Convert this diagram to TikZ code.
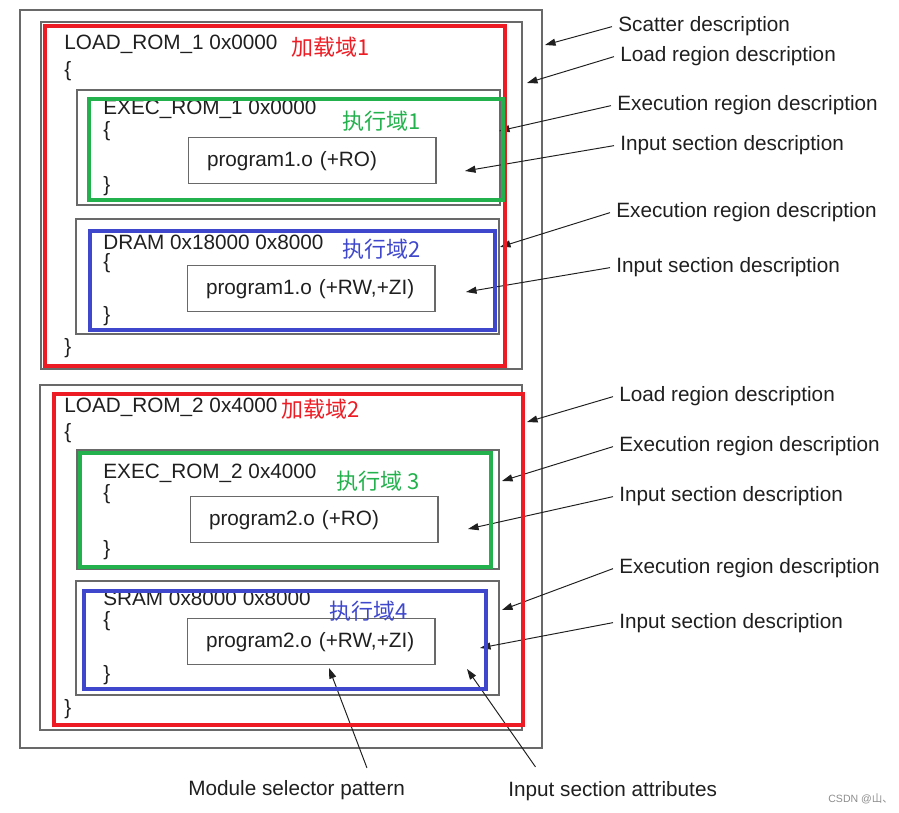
\documentclass[tikz,border=0pt]{standalone}
\usepackage{fontspec}
\setmainfont{Liberation Sans}
\newfontfamily\cjk{Noto Sans CJK SC}
\usetikzlibrary{arrows.meta}
\definecolor{regred}{HTML}{ED1C24}
\definecolor{exgreen}{HTML}{22B14C}
\definecolor{exblue}{HTML}{3F48CC}
\definecolor{boxgray}{RGB}{105,105,105}
\tikzset{
  gbox/.style={draw=boxgray, line width=0.85pt},
  redbox/.style={draw=regred, line width=2.5pt},
  greenbox/.style={draw=exgreen, line width=2.5pt},
  bluebox/.style={draw=exblue, line width=2.5pt},
  ptr/.style={draw=black!88, line width=0.55pt, -{Triangle[length=6pt,width=4pt]}}
}

\begin{document}
\begin{tikzpicture}[x=0.02cm, y=-0.02cm, font=\fontsize{11.8}{14}\selectfont,
                    txt/.style={anchor=base west, inner sep=0pt, text=black!88},
                    zh/.style={anchor=base west, inner sep=0pt, font=\cjk\fontsize{12.5}{15}\selectfont},
                    desc/.style={anchor=base west, inner sep=0pt, inner xsep=3.4pt, text=black!88},
                    prog/.style={gbox, anchor=north west, minimum height=0.92cm, inner xsep=10.4pt,
                                 text width=119.8pt, align=left, text=black!88}]
  \useasboundingbox (0,0) rectangle (899,813);

  \draw[gbox] (20,10) rectangle (542,748);
  \draw[gbox] (41,22) rectangle (522,369);
  \draw[gbox] (77,90) rectangle (500,205);
  \draw[gbox] (76,219) rectangle (499,334);
  \draw[gbox] (40,385) rectangle (522,730);
  \draw[gbox] (77,450) rectangle (499,569);
  \draw[gbox] (76,581) rectangle (499,695);

  \node[txt] (lrom1) at (64,50) {LOAD\_ROM\_1 0x0000};
  \node[txt] (ob1) at (64,77) {\{};
  \node[txt] (erom1) at (103,115) {EXEC\_ROM\_1 0x0000};
  \node[txt] (ob2) at (103,137) {\{};
  \node[txt] (cb2) at (103,192) {\}};
  \node[txt] (dram) at (103,250) {DRAM 0x18000 0x8000};
  \node[txt] (ob3) at (103,269) {\{};
  \node[txt] (cb3) at (103,322) {\}};
  \node[txt] (cb1) at (64,354) {\}};
  \node[txt] (lrom2) at (64,413) {LOAD\_ROM\_2 0x4000};
  \node[txt] (ob4) at (64,439) {\{};
  \node[txt] (erom2) at (103,479) {EXEC\_ROM\_2 0x4000};
  \node[txt] (ob5) at (103,500) {\{};
  \node[txt] (cb5) at (103,556) {\}};
  \node[txt] (sram) at (103,605) {SRAM 0x8000 0x8000};
  \node[txt] (ob6) at (103,626) {\{};
  \node[txt] (cb6) at (103,681) {\}};
  \node[txt] (cb4) at (64,714) {\}};

  \node[prog] (prog1) at (188,137) {program1.o (+RO)};
  \node[prog] (prog2) at (187,265) {program1.o (+RW,+ZI)};
  \node[prog] (prog3) at (190,496) {program2.o (+RO)};
  \node[prog] (prog4) at (187,618) {program2.o (+RW,+ZI)};

  \node[zh, text=regred] (jz1) at (291,56) {加载域1};
  \node[zh, text=exgreen] (zx1) at (342,130) {执行域1};
  \node[zh, text=exblue] (zx2) at (342,258) {执行域2};
  \node[zh, text=regred] (jz2) at (281,418) {加载域2};
  \node[zh, text=exgreen] (zx3) at (336,490) {执行域 3};
  \node[zh, text=exblue] (zx4) at (329,620) {执行域4};

  \node[desc] (scat) at (612,32) {Scatter description};
  \node[desc] (lreg1) at (614,62) {Load region description};
  \node[desc] (ereg1) at (611,111) {Execution region description};
  \node[desc] (isec1) at (614,151) {Input section description};
  \node[desc] (ereg2) at (610,218) {Execution region description};
  \node[desc] (isec2) at (610,273) {Input section description};
  \node[desc] (lreg2) at (613,402) {Load region description};
  \node[desc] (ereg3) at (613,452) {Execution region description};
  \node[desc] (isec3) at (613,502) {Input section description};
  \node[desc] (ereg4) at (613,574) {Execution region description};
  \node[desc] (isec4) at (613,628) {Input section description};
  \node[desc] (msel) at (182,795) {Module selector pattern};
  \node[desc] (iattr) at (502,796) {Input section attributes};
  \node[anchor=base west, inner sep=0pt, text=black!45, font=\fontsize{6}{7}\selectfont] (wmark) at (828,802) {CSDN @{\cjk 山、}};

  \coordinate (t-scat) at (545,45);
  \coordinate (t-lreg1) at (527,83);
  \coordinate (t-ereg1) at (499,131);
  \coordinate (t-isec1) at (465,171);
  \coordinate (t-ereg2) at (500,247);
  \coordinate (t-isec2) at (466,292);
  \coordinate (t-lreg2) at (527,422);
  \coordinate (t-ereg3) at (502,481);
  \coordinate (t-isec3) at (468,529);
  \coordinate (t-ereg4) at (502,610);
  \coordinate (t-isec4) at (480,648);
  \coordinate (t-msel) at (329,668);
  \coordinate (t-iattr) at (467,669);

  \draw[ptr] (scat.west) -- (t-scat);
  \draw[ptr] (lreg1.west) -- (t-lreg1);
  \draw[ptr] (ereg1.west) -- (t-ereg1);
  \draw[ptr] (isec1.west) -- (t-isec1);
  \draw[ptr] (ereg2.west) -- (t-ereg2);
  \draw[ptr] (isec2.west) -- (t-isec2);
  \draw[ptr] (lreg2.west) -- (t-lreg2);
  \draw[ptr] (ereg3.west) -- (t-ereg3);
  \draw[ptr] (isec3.west) -- (t-isec3);
  \draw[ptr] (ereg4.west) -- (t-ereg4);
  \draw[ptr] (isec4.west) -- (t-isec4);
  \draw[ptr] ([xshift=40pt,yshift=6.7pt]msel.north) -- (t-msel);
  \draw[ptr] ([xshift=-43.9pt,yshift=7.8pt]iattr.north) -- (t-iattr);

  \draw[redbox] (45,26) rectangle (505,366);
  \draw[greenbox] (89,99) rectangle (503,200);
  \draw[bluebox] (90,231) rectangle (495,330);
  \draw[redbox] (54,394) rectangle (523,725);
  \draw[greenbox] (80,453) rectangle (491,567);
  \draw[bluebox] (84,591) rectangle (486,689);
\end{tikzpicture}
\end{document}
